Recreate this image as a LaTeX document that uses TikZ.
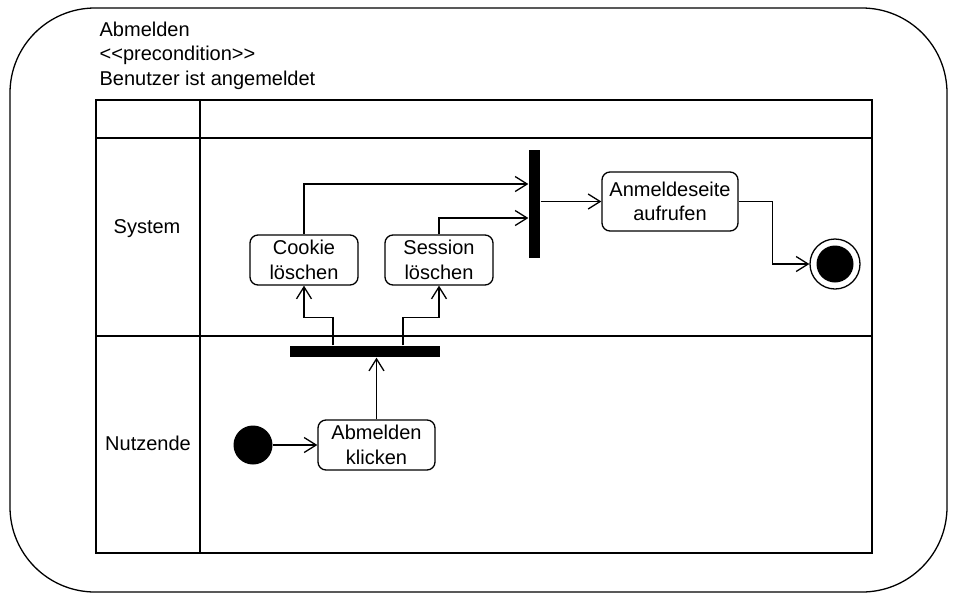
\documentclass[tikz,border=0pt]{standalone}
\usepackage{fontspec}
\setmainfont{Liberation Sans}
\usetikzlibrary{arrows.meta}

\begin{document}
\begin{tikzpicture}[x=1pt,y=-1pt,line width=1.3pt,
  action/.style={draw=linecolor,fill=fillcolor,rounded corners=8pt,align=center,
    minimum width=108pt,minimum height=50pt,inner sep=0pt,font=\fontsize{20}{24.5}\selectfont},
  bar/.style={fill=linecolor,draw=none,inner sep=0pt},
  lanelabel/.style={font=\fontsize{20}{24}\selectfont},
  flow/.style={-{Straight Barb[length=12pt,width=15pt]}}]
\definecolor{fillcolor}{RGB}{255,255,255}
\definecolor{linecolor}{RGB}{0,0,0}
\useasboundingbox (0,0) rectangle (954,595);
\draw [linecolor,rounded corners=85pt] (10,8) rectangle (947,592);
\node [anchor=north west,align=left,inner sep=0pt,font=\fontsize{20}{24.5}\selectfont] (title) at (99,21)
  {Abmelden\\<\kern0pt<precondition>\kern0pt>\\Benutzer ist angemeldet};
\draw [linecolor] (96,100) rectangle (872,553);
\draw [linecolor] (96,138) -- (872,138);
\draw [linecolor] (96,336) -- (872,336);
\draw [linecolor] (200,100) -- (200,553);
\node [lanelabel] (system) at (147,229) {System};
\node [lanelabel] (nutzende) at (148,443) {Nutzende};
\node [circle,fill=linecolor,minimum size=39pt,inner sep=0pt] (start) at (253,445) {};
\node [action,minimum width=117pt] (click) at (376.5,445) {Abmelden\\klicken};
\node [bar,minimum width=150pt,minimum height=11pt] (fork) at (365,351.5) {};
\node [action] (cookie) at (304,260) {Cookie\\löschen};
\node [action] (session) at (439,260) {Session\\löschen};
\node [bar,minimum width=11pt,minimum height=108pt] (join) at (534.5,204) {};
\node [action,minimum width=136pt,minimum height=59pt] (anmelde) at (670,201.5) {Anmeldeseite\\aufrufen};
\node [circle,draw=linecolor,fill=fillcolor,minimum size=50pt,inner sep=0pt] (final) at (835,264) {};
\node [circle,fill=linecolor,minimum size=37pt,inner sep=0pt] (finaldot) at (final) {};
\draw [flow] (start) -- (click);
\draw [flow] (click.north) -- (click.north |- fork.south);
\draw [flow] ([xshift=-32pt]fork.north) -- ++(0,-28) -| (cookie.south);
\draw [flow] ([xshift=38pt]fork.north) -- ++(0,-28) -| (session.south);
\draw [flow] (cookie.north) |- ([yshift=20pt]join.west);
\draw [flow] (session.north) |- ([yshift=-14pt]join.west);
\draw [flow] (join.east |- anmelde.west) -- (anmelde.west);
\draw [flow] (anmelde.east) -- ++(34,0) |- (final.west);
\end{tikzpicture}
\end{document}
